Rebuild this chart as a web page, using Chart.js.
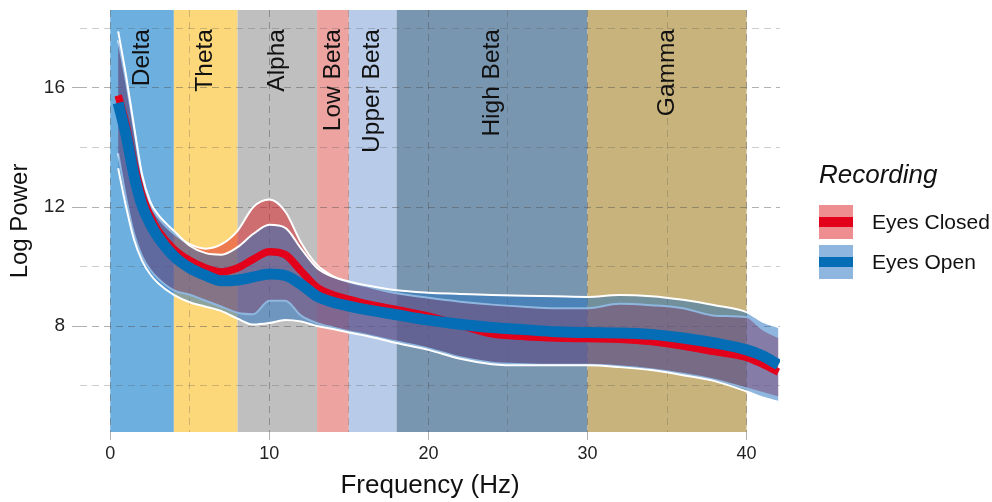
<!DOCTYPE html>
<html>
<head>
<meta charset="utf-8">
<script src="https://cdn.jsdelivr.net/npm/chart.js@4"></script>
<style>
  html, body { margin: 0; padding: 0; background: #fff; }
</style>
</head>
<body>
<canvas id="psd" width="992" height="502"></canvas>
<script>
// frequency grid (Hz)
const freq = [0.5, 1, 1.5, 2, 2.5, 3, 4, 5, 6, 7, 8, 9, 10, 11, 12, 13, 14, 15, 16, 18, 20, 22, 24, 26, 28, 30, 32, 34, 36, 38, 40, 41, 42];

// Eyes Closed: mean and ribbon
const closedMean  = [15.75, 14.75, 13.45, 12.4, 11.72, 11.22, 10.58, 10.2, 9.95, 9.82, 9.95, 10.25, 10.5, 10.4, 9.85, 9.3, 9.05, 8.9, 8.76, 8.55, 8.33, 8.03, 7.74, 7.65, 7.6, 7.58, 7.56, 7.48, 7.33, 7.14, 6.95, 6.72, 6.45];
const closedUpper = [17.6, 16.2, 14.6, 13.0, 12.1, 11.65, 11.1, 10.75, 10.6, 10.75, 11.2, 12.0, 12.25, 11.85, 10.8, 10.05, 9.68, 9.48, 9.35, 9.1, 8.95, 8.82, 8.72, 8.65, 8.6, 8.6, 8.75, 8.7, 8.6, 8.35, 8.3, 7.9, 7.63];
const closedLower = [13.8, 12.3, 11.1, 10.35, 9.9, 9.6, 9.2, 9.05, 8.85, 8.65, 8.45, 8.4, 8.85, 8.85, 8.35, 8.1, 7.95, 7.82, 7.72, 7.48, 7.25, 6.95, 6.77, 6.72, 6.7, 6.7, 6.65, 6.55, 6.4, 6.2, 5.9, 5.75, 5.6];

// Eyes Open: mean and ribbon
const openMean  = [15.5, 14.4, 13.05, 12.05, 11.45, 11.0, 10.35, 9.95, 9.7, 9.52, 9.55, 9.65, 9.75, 9.7, 9.4, 9.0, 8.8, 8.67, 8.56, 8.38, 8.2, 8.06, 7.95, 7.88, 7.81, 7.78, 7.77, 7.72, 7.6, 7.43, 7.2, 7.0, 6.7];
const openUpper = [17.9, 16.4, 14.7, 13.1, 12.2, 11.75, 11.2, 10.7, 10.45, 10.4, 10.65, 11.1, 11.4, 11.3, 10.6, 9.95, 9.65, 9.5, 9.38, 9.2, 9.12, 9.08, 9.04, 9.02, 9.0, 8.98, 9.04, 9.0, 8.88, 8.7, 8.47, 8.15, 7.97];
const openLower = [13.3, 12.0, 10.9, 10.2, 9.75, 9.45, 9.05, 8.8, 8.65, 8.5, 8.25, 8.05, 8.1, 8.2, 8.15, 8.0, 7.9, 7.78, 7.68, 7.43, 7.2, 6.9, 6.72, 6.68, 6.68, 6.68, 6.62, 6.52, 6.35, 6.15, 5.8, 5.6, 5.45];

// EEG bands
const bandNames = ["Delta", "Theta", "Alpha", "Low Beta", "Upper Beta", "High Beta", "Gamma"];
const bandStart = [0, 4, 8, 13, 15, 18, 30];
const bandEnd   = [4, 8, 13, 15, 18, 30, 40];
const bandColors = ["#6DAFDF", "#FDD87B", "#BFBFBF", "#EDA4A1", "#B8CCEA", "#7996B1", "#C7B37B"];

const xTicks = [0, 5, 10, 15, 20, 25, 30, 35, 40];
const yTicks = [6, 8, 10, 12, 14, 16, 18];

const FONT = "'Liberation Sans', Arial, sans-serif";
const pts = arr => freq.map((f, i) => ({ x: f, y: arr[i] }));

const redFill = "rgba(222, 30, 35, 0.5)";
const blueFill = "rgba(30, 110, 190, 0.5)";
const redLine = "#E2001A";
const blueLine = "#056DB6";

/* bands behind the grid */
const bandPlugin = {
    id: "bands",
    beforeDraw(chart) {
        const { ctx, chartArea, scales } = chart;
        ctx.save();
        bandNames.forEach((n, i) => {
            const x0 = scales.x.getPixelForValue(bandStart[i]);
            const x1 = scales.x.getPixelForValue(bandEnd[i]);
            ctx.fillStyle = bandColors[i];
            ctx.fillRect(x0, chartArea.top, x1 - x0, chartArea.bottom - chartArea.top);
        });
        ctx.restore();
    }
};

/* vertical band names */
const bandLabelPlugin = {
    id: "bandLabels",
    beforeDatasetsDraw(chart) {
        const { ctx, chartArea, scales } = chart;
        ctx.save();
        ctx.fillStyle = "#111";
        ctx.font = "24.5px " + FONT;
        ctx.textAlign = "right";
        ctx.textBaseline = "middle";
        bandNames.forEach((n, i) => {
            const cx = scales.x.getPixelForValue((bandStart[i] + bandEnd[i]) / 2);
            ctx.save();
            ctx.translate(cx, chartArea.top + 19);
            ctx.rotate(-Math.PI / 2);
            ctx.fillText(n, 0, 0);
            ctx.restore();
        });
        ctx.restore();
    }
};

/* ggplot-like legend on the right */
const legendPlugin = {
    id: "recLegend",
    afterDraw(chart) {
        const ctx = chart.ctx;
        ctx.save();
        ctx.fillStyle = "#111";
        ctx.textAlign = "left";
        ctx.textBaseline = "alphabetic";
        ctx.font = "italic 26px " + FONT;
        ctx.fillText("Recording", 819, 183);

        const items = [
            { label: "Eyes Closed", fill: redFill, line: redLine, y: 205 },
            { label: "Eyes Open", fill: blueFill, line: blueLine, y: 245 }
        ];
        items.forEach(it => {
            ctx.fillStyle = "#fff";
            ctx.fillRect(819, it.y, 34, 34);
            ctx.fillStyle = it.fill;
            ctx.fillRect(819, it.y, 34, 34);
            ctx.fillStyle = it.line;
            ctx.fillRect(819, it.y + 12, 34, 10);
            ctx.fillStyle = "#111";
            ctx.font = "21px " + FONT;
            ctx.textBaseline = "middle";
            ctx.fillText(it.label, 872, it.y + 18);
        });
        ctx.restore();
    }
};

const gridColor = major => major ? "rgba(80,80,80,0.45)" : "rgba(80,80,80,0.28)";
const noPad = s => { s.paddingTop = 0; s.paddingBottom = 0; s.paddingLeft = 0; s.paddingRight = 0; };

new Chart(document.getElementById("psd"), {
    type: "line",
    data: {
        datasets: [
            { label: "closedUpper", data: pts(closedUpper), fill: 1, backgroundColor: redFill, borderColor: "#fff", borderWidth: 2, order: 6 },
            { label: "closedLower", data: pts(closedLower), fill: false, borderColor: "#fff", borderWidth: 2, order: 5 },
            { label: "openUpper", data: pts(openUpper), fill: 3, backgroundColor: blueFill, borderColor: "#fff", borderWidth: 2, order: 4 },
            { label: "openLower", data: pts(openLower), fill: false, borderColor: "#fff", borderWidth: 2, order: 3 },
            { label: "Eyes Closed", data: pts(closedMean), fill: false, borderColor: redLine, borderWidth: 7.5, order: 2 },
            { label: "Eyes Open", data: pts(openMean), fill: false, borderColor: blueLine, borderWidth: 11, order: 1 }
        ]
    },
    options: {
        responsive: false,
        animation: false,
        devicePixelRatio: 1,
        layout: { padding: { top: 10, right: 212, left: 0, bottom: 0 } },
        elements: {
            point: { radius: 0 },
            line: { cubicInterpolationMode: "monotone", borderCapStyle: "butt" }
        },
        plugins: {
            legend: { display: false },
            tooltip: { enabled: false }
        },
        scales: {
            x: {
                type: "linear",
                min: -1.9,
                max: 42.1,
                afterBuildTicks: s => { s.ticks = xTicks.map(v => ({ value: v })); },
                afterFit: s => { s.height = 70; noPad(s); },
                border: { display: false, dash: [7, 5] },
                grid: {
                    color: c => gridColor(c.tick && c.tick.value % 10 === 0),
                    lineWidth: 1,
                    tickLength: 8,
                    tickColor: c => c.tick && c.tick.value % 10 === 0 ? "rgba(80,80,80,0.45)" : "rgba(0,0,0,0)"
                },
                ticks: {
                    padding: 3,
                    color: "#222",
                    font: { family: FONT, size: 18 },
                    maxRotation: 0,
                    callback: v => v % 10 === 0 ? v : ""
                },
                title: {
                    display: true,
                    text: "Frequency (Hz)",
                    color: "#111",
                    font: { family: FONT, size: 26 },
                    padding: { top: 0, bottom: 1 }
                }
            },
            y: {
                type: "linear",
                min: 4.44,
                max: 18.62,
                afterBuildTicks: s => { s.ticks = yTicks.map(v => ({ value: v })); },
                afterFit: s => { s.width = 80; noPad(s); },
                border: { display: false, dash: [7, 5] },
                grid: {
                    color: c => gridColor(c.tick && c.tick.value % 4 === 0),
                    lineWidth: 1,
                    tickLength: 8,
                    tickColor: c => c.tick && c.tick.value % 4 === 0 ? "rgba(80,80,80,0.45)" : "rgba(0,0,0,0)"
                },
                ticks: {
                    padding: 7,
                    color: "#222",
                    font: { family: FONT, size: 19 },
                    callback: v => v % 4 === 0 ? v : ""
                },
                title: {
                    display: true,
                    text: "Log Power",
                    color: "#111",
                    font: { family: FONT, size: 24 },
                    padding: { top: 6, bottom: 0 }
                }
            }
        }
    },
    plugins: [bandPlugin, bandLabelPlugin, legendPlugin]
});
</script>
</body>
</html>
